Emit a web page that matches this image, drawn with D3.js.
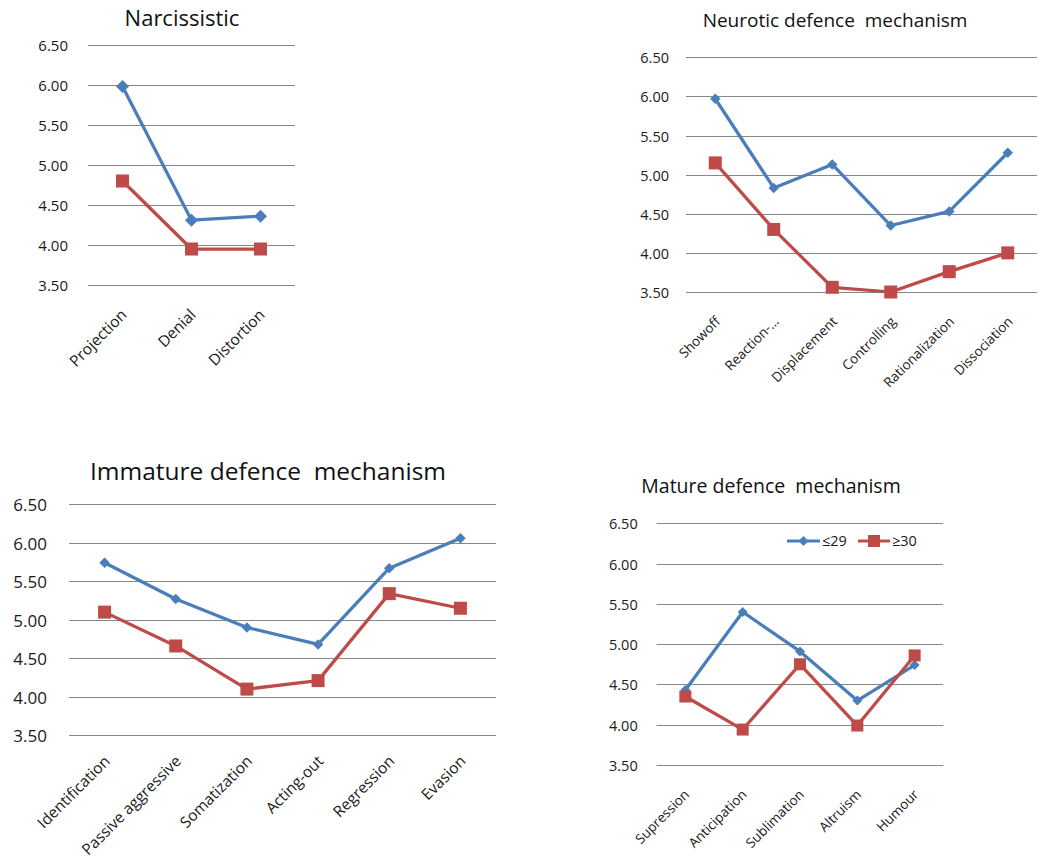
<!DOCTYPE html>
<html>
<head>
<meta charset="utf-8">
<script src="https://cdn.jsdelivr.net/npm/d3@7/dist/d3.min.js"></script>
<style>
  html, body { margin: 0; padding: 0; background: #fff; }
  svg { display: block; font-family: "Open Sans", sans-serif; }
  text { white-space: pre; }
</style>
</head>
<body>
<svg id="chart" width="1038" height="864"></svg>
<script>
// ---------- data ----------
const seriesNames = ["≤29", "≥30"];
const yTickValues = [3.5, 4.0, 4.5, 5.0, 5.5, 6.0, 6.5];

const narcCategories = ["Projection", "Denial", "Distortion"];
const narcLow  = [5.98, 4.31, 4.36];
const narcHigh = [4.80, 3.95, 3.95];

const neuroCategories = ["Showoff", "Reaction-…", "Displacement", "Controlling", "Rationalization", "Dissociation"];
const neuroLow  = [5.97, 4.83, 5.13, 4.35, 4.53, 5.28];
const neuroHigh = [5.15, 4.30, 3.56, 3.50, 3.76, 4.00];

const immCategories = ["Identification", "Passive aggressive", "Somatization", "Acting-out", "Regression", "Evasion"];
const immLow  = [5.74, 5.27, 4.90, 4.68, 5.67, 6.06];
const immHigh = [5.10, 4.66, 4.10, 4.21, 5.34, 5.15];

const matCategories = ["Supression", "Anticipation", "Sublimation", "Altruism", "Humour"];
const matLow  = [4.43, 5.40, 4.91, 4.30, 4.74];
const matHigh = [4.35, 3.94, 4.75, 3.99, 4.86];

// ---------- layout ----------
const COLORS = ["#4A7EBB", "#BE4B48"];
const panels = [
  { title: "Narcissistic", cats: narcCategories, low: narcLow, high: narcHigh,
    x0: 88, x1: 295, yTop: 45, yBot: 285, titleX: 182, titleY: 26, titleSize: 22,
    tickRight: 68, tickSize: 15, labelSize: 15.5, lx: 1, ly: 27, sq: 13, dia: 13, legend: false },
  { title: "Neurotic defence  mechanism", cats: neuroCategories, low: neuroLow, high: neuroHigh,
    x0: 686, x1: 1037, yTop: 57.3, yBot: 292, titleX: 835, titleY: 27, titleSize: 19,
    tickRight: 669, tickSize: 14.5, labelSize: 13.5, lx: 2, ly: 27, sq: 13, dia: 10.5, legend: false },
  { title: "Immature defence  mechanism", cats: immCategories, low: immLow, high: immHigh,
    x0: 69, x1: 496, yTop: 504.3, yBot: 735.3, titleX: 268, titleY: 480, titleSize: 24.5,
    tickRight: 47, tickSize: 17, labelSize: 15.5, lx: 2, ly: 23, sq: 13, dia: 10.5, legend: false },
  { title: "Mature defence  mechanism", cats: matCategories, low: matLow, high: matHigh,
    x0: 656.7, x1: 943.3, yTop: 523.3, yBot: 765, titleX: 771, titleY: 493, titleSize: 19.5,
    tickRight: 637.7, tickSize: 14.5, labelSize: 13.5, lx: 1, ly: 27, sq: 12, dia: 10, legend: true }
];

const svg = d3.select("#chart");

function diamondPath(s) {
  const r = s / 2;
  return `M0,${-r}L${r},0L0,${r}L${-r},0Z`;
}

panels.forEach(p => {
  const g = svg.append("g");
  const x = d3.scalePoint().domain(p.cats).range([p.x0, p.x1]).padding(0.5);
  const y = d3.scaleLinear().domain([3.5, 6.5]).range([p.yBot, p.yTop]);

  // title
  g.append("text")
    .attr("x", p.titleX).attr("y", p.titleY)
    .attr("text-anchor", "middle")
    .attr("font-size", p.titleSize)
    .attr("fill", "#111")
    .text(p.title);

  // gridlines
  g.selectAll("line.grid").data(yTickValues).join("line")
    .attr("class", "grid")
    .attr("x1", p.x0).attr("x2", p.x1)
    .attr("y1", d => Math.round(y(d)) + 0.5).attr("y2", d => Math.round(y(d)) + 0.5)
    .attr("stroke", "#878787").attr("stroke-width", 1);

  // y axis labels
  const yAxis = d3.axisLeft(y).tickValues(yTickValues).tickFormat(d3.format(".2f")).tickSize(0).tickPadding(0);
  const ya = g.append("g").attr("transform", `translate(${p.tickRight},0)`).call(yAxis);
  ya.select(".domain").remove();
  ya.selectAll("text").attr("font-size", p.tickSize).attr("font-family", "Open Sans").attr("fill", "#1a1a1a").attr("dy", "0.38em");

  // x axis labels (rotated)
  const xAxis = d3.axisBottom(x).tickSize(0).tickPadding(0);
  const xa = g.append("g").attr("transform", `translate(0,${p.yBot})`).call(xAxis);
  xa.select(".domain").remove();
  xa.selectAll(".tick text")
    .attr("font-size", p.labelSize).attr("font-family", "Open Sans").attr("fill", "#1a1a1a")
    .attr("text-anchor", "end")
    .attr("x", 0).attr("y", 0).attr("dy", "0.35em")
    .attr("transform", `translate(${p.lx},${p.ly}) rotate(-45)`);

  // series
  const series = [p.low, p.high];
  const line = d3.line().x((d, i) => x(p.cats[i])).y(d => y(d));
  series.forEach((vals, si) => {
    g.append("path").datum(vals)
      .attr("d", line)
      .attr("fill", "none")
      .attr("stroke", COLORS[si])
      .attr("stroke-width", 3.25)
      .attr("stroke-linejoin", "round");
  });
  series.forEach((vals, si) => {
    if (si === 0) {
      g.selectAll(null).data(vals).join("path")
        .attr("d", diamondPath(p.dia))
        .attr("transform", (d, i) => `translate(${x(p.cats[i])},${y(d)})`)
        .attr("fill", COLORS[si]);
    } else {
      g.selectAll(null).data(vals).join("rect")
        .attr("x", (d, i) => x(p.cats[i]) - p.sq / 2)
        .attr("y", d => y(d) - p.sq / 2)
        .attr("width", p.sq).attr("height", p.sq)
        .attr("fill", COLORS[si]);
    }
  });

  // legend
  if (p.legend) {
    const ly = 541;
    const items = [
      { name: seriesNames[0], x1: 787, x2: 820, tx: 822 },
      { name: seriesNames[1], x1: 858, x2: 890, tx: 892 }
    ];
    items.forEach((it, si) => {
      const lg = g.append("g");
      lg.append("line").attr("x1", it.x1).attr("x2", it.x2).attr("y1", ly).attr("y2", ly)
        .attr("stroke", COLORS[si]).attr("stroke-width", 3);
      const cx = (it.x1 + it.x2) / 2;
      if (si === 0) {
        lg.append("path").attr("d", diamondPath(10)).attr("transform", `translate(${cx},${ly})`).attr("fill", COLORS[si]);
      } else {
        lg.append("rect").attr("x", cx - 6).attr("y", ly - 6).attr("width", 12).attr("height", 12).attr("fill", COLORS[si]);
      }
      lg.append("text").attr("x", it.tx).attr("y", ly).attr("dy", "0.36em")
        .attr("font-size", 14.5).attr("fill", "#1a1a1a").text(it.name);
    });
  }
});
</script>
</body>
</html>
